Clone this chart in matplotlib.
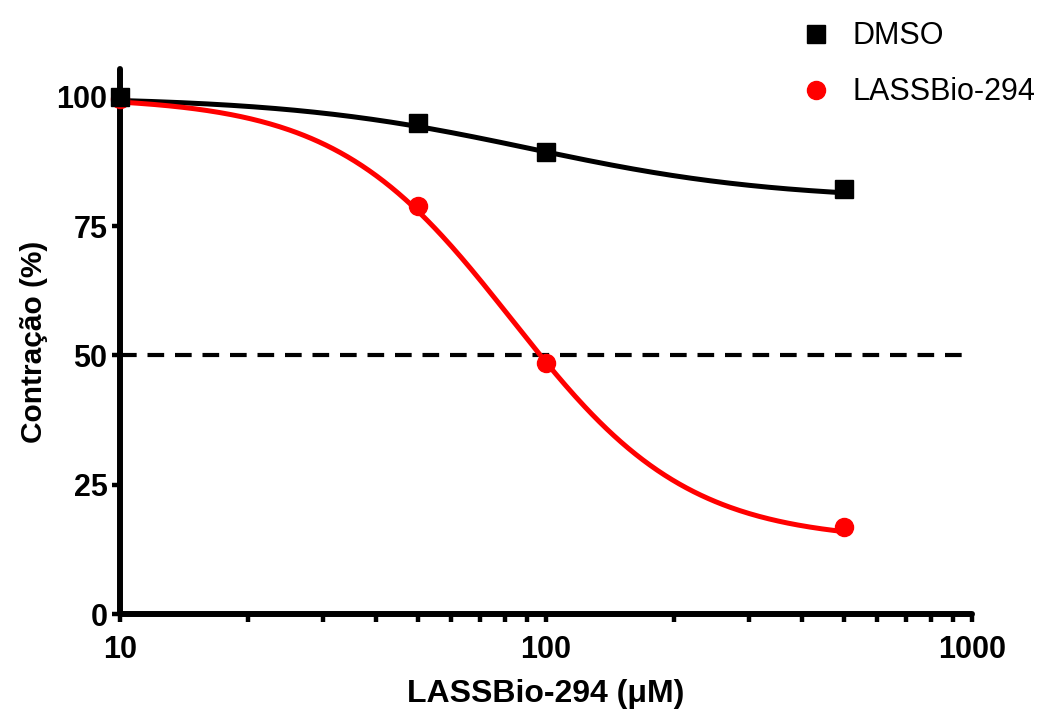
import numpy as np
import matplotlib
matplotlib.use("Agg")
import matplotlib.pyplot as plt
from matplotlib.ticker import LogLocator, FixedLocator, NullFormatter, FixedFormatter

plt.rcParams['font.family'] = ['Liberation Sans', 'DejaVu Sans']

# Data
conc = [10, 50, 100, 500]               # µM
dmso = [100.0, 95.0, 89.4, 82.2]
lassbio = [99.6, 78.9, 48.5, 16.8]

# Fitted 4-parameter logistic curves (top, bottom, EC50, hill)
dmso_fit = dict(top=100.0, bottom=80.0, ec50=92.0, hill=1.5)
lass_fit = dict(top=100.0, bottom=14.0, ec50=83.0, hill=2.1)

series_labels = ["DMSO", "LASSBio-294"]
xticks = [10, 100, 1000]
xticklabels = ["10", "100", "1000"]
yticks = [0, 25, 50, 75, 100]
yticklabels = ["0", "25", "50", "75", "100"]
ref_level = 50


def four_pl(x, top, bottom, ec50, hill):
    return bottom + (top - bottom) / (1 + (x / ec50) ** hill)


fig = plt.figure(figsize=(10.54, 7.13), dpi=100)
ax = fig.add_axes([120 / 1054, 1 - 614 / 713, (972 - 120) / 1054, (614 - 69) / 713])

xs = np.logspace(1, np.log10(500), 300)
ax.plot(xs, four_pl(xs, **dmso_fit), color='black', lw=3.6, zorder=3, clip_on=False)
ax.plot(xs, four_pl(xs, **lass_fit), color='#ff0000', lw=3.6, zorder=3, clip_on=False)

ax.plot(conc, dmso, linestyle='none', marker='s', ms=12.5, color='black',
        label=series_labels[0], zorder=5, clip_on=False)
ax.plot(conc, lassbio, linestyle='none', marker='o', ms=13, color='#ff0000',
        label=series_labels[1], zorder=4, clip_on=False)

ax.axhline(ref_level, color='black', lw=3.0, dashes=(4, 2.6), zorder=2)

ax.set_xscale('log')
ax.set_xlim(10, 1000)
ax.set_ylim(0, 105.4)

ax.xaxis.set_major_locator(FixedLocator(xticks))
ax.xaxis.set_major_formatter(FixedFormatter(xticklabels))
ax.xaxis.set_minor_locator(LogLocator(base=10, subs=np.arange(2, 10)))
ax.xaxis.set_minor_formatter(NullFormatter())
ax.set_yticks(yticks)
ax.set_yticklabels(yticklabels)

for s in ['top', 'right']:
    ax.spines[s].set_visible(False)
for s in ['left', 'bottom']:
    ax.spines[s].set_linewidth(4.3)
    ax.spines[s].set_capstyle('round')

ax.tick_params(axis='both', which='major', length=6, width=3.2, direction='out',
               labelsize=22, pad=3)
ax.tick_params(axis='x', which='minor', length=6, width=3.2, direction='out')
ax.tick_params(axis='x', which='major', pad=9)
for lab in ax.get_xticklabels() + ax.get_yticklabels():
    lab.set_fontweight('bold')

ax.set_xlabel("LASSBio-294 (μM)", fontsize=23, fontweight='bold', labelpad=10)
ax.set_ylabel("Contração (%)", fontsize=21.5, fontweight='bold', labelpad=6)

fig.legend(loc='upper left', bbox_to_anchor=(785 / 1054, 1 - 9 / 713), frameon=False,
           fontsize=22, handletextpad=0.6, labelspacing=0.85, handlelength=1.2,
           borderaxespad=0)

fig.savefig("out.png", dpi=100)
